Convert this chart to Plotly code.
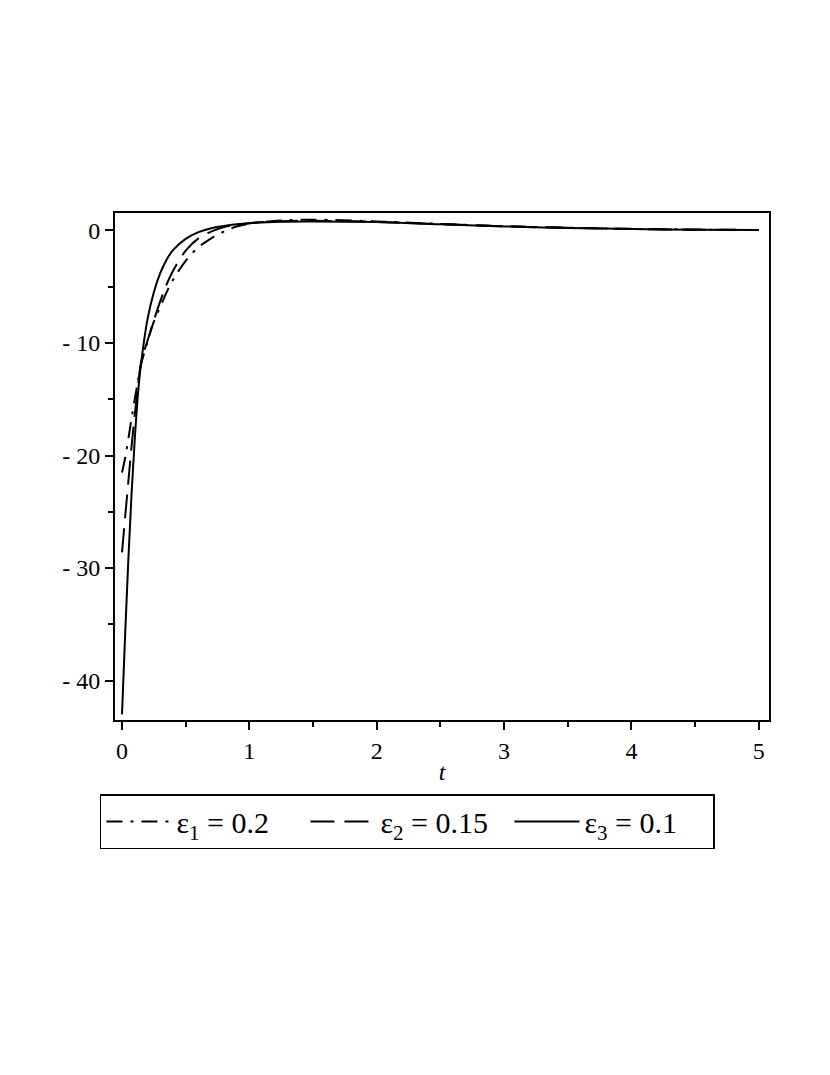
import plotly.graph_objects as go

# valeurs
t = [0, 0.025, 0.05, 0.075, 0.1, 0.125, 0.15, 0.2, 0.25, 0.3, 0.35, 0.4, 0.5, 0.6,
     0.7, 0.8, 0.9, 1.0, 1.25, 1.5, 2.0, 2.5, 3.0, 3.5, 4.0, 4.5, 5.0]

y_eps1 = [-21.5, -20.2, -18.5, -16.7, -15.0, -13.4, -11.9, -9.9, -8.1, -6.8, -5.5, -4.4, -2.7, -1.5,
          -0.7, -0.1, 0.35, 0.6, 0.88, 0.95, 0.8, 0.58, 0.38, 0.24, 0.14, 0.08, 0.04]
y_eps2 = [-28.6, -25.4, -22.3, -19.2, -16.4, -13.9, -11.7, -9.8, -8.0, -6.3, -4.8, -3.6, -1.8, -0.7,
          -0.1, 0.3, 0.5, 0.65, 0.82, 0.86, 0.76, 0.56, 0.37, 0.23, 0.13, 0.07, 0.04]
y_eps3 = [-43.0, -35.8, -29.2, -23.4, -18.6, -14.6, -11.8, -7.9, -5.5, -3.8, -2.6, -1.75, -0.75, -0.15,
          0.2, 0.4, 0.55, 0.65, 0.78, 0.8, 0.75, 0.55, 0.36, 0.22, 0.13, 0.07, 0.04]

names = ["ε<sub>1</sub> = 0.2", "ε<sub>2</sub> = 0.15", "ε<sub>3</sub> = 0.1"]
series = [y_eps1, y_eps2, y_eps3]
dashes = ["16px,8px,3px,8px", "24px,10px", "solid"]

y_ticks = [-40, -30, -20, -10, 0]
y_ticktext = ["- 40", "- 30", "- 20", "- 10", "0"]

fig = go.Figure()
for y, n, d in zip(series, names, dashes):
    fig.add_trace(go.Scatter(x=t, y=y, mode="lines", name=n,
                             line=dict(color="black", width=2, dash=d, shape="spline")))

fig.update_layout(
    width=830, height=1075,
    paper_bgcolor="white", plot_bgcolor="white",
    margin=dict(l=107, r=69, t=205, b=363),
    font=dict(family="Liberation Serif", size=24, color="black"),
    showlegend=True,
    legend=dict(orientation="h", x=-0.023, y=-0.146, xanchor="left", yanchor="top",
                bordercolor="black", borderwidth=1.5, font=dict(size=30),
                itemwidth=65, tracegroupgap=0, entrywidth=124, entrywidthmode="pixels")
)
fig.update_xaxes(range=[-0.055, 5.08], tickvals=[0, 1, 2, 3, 4, 5],
                 ticks="outside", ticklen=8, tickwidth=2, tickcolor="black",
                 minor=dict(dtick=0.5, ticks="outside", ticklen=5, tickwidth=1.5, tickcolor="black"),
                 showline=True, linecolor="black", linewidth=2, mirror=True,
                 showgrid=False, zeroline=False,
                 title=dict(text="<i>t</i>", standoff=0, font=dict(size=24)))
fig.update_yaxes(range=[-43.5, 1.55], tickvals=y_ticks, ticktext=y_ticktext,
                 ticks="outside", ticklen=8, tickwidth=2, tickcolor="black",
                 minor=dict(dtick=5, ticks="outside", ticklen=5, tickwidth=1.5, tickcolor="black"),
                 showline=True, linecolor="black", linewidth=2, mirror=True,
                 showgrid=False, zeroline=False)

fig.write_html("out.html")
